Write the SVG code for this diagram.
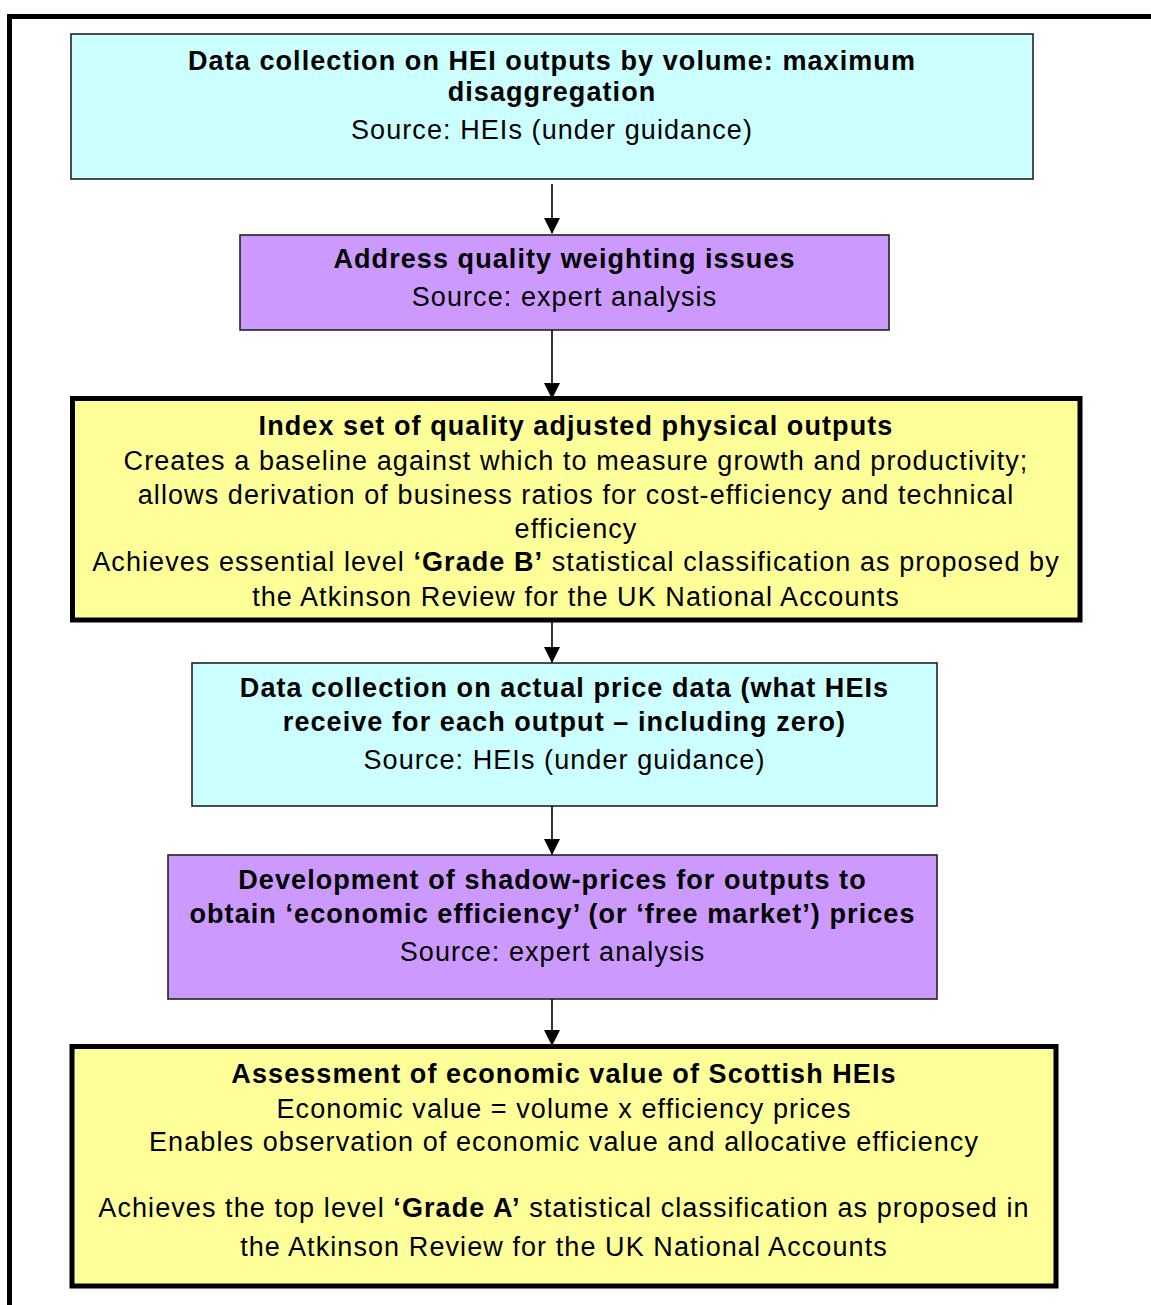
<svg xmlns="http://www.w3.org/2000/svg" width="1151" height="1305" viewBox="0 0 1151 1305">
<defs>
<style>
.t{font-family:"Liberation Sans",Arial,sans-serif;font-size:27px;fill:#000;text-anchor:middle;letter-spacing:1.08px}
.b{font-weight:bold}
.cyan{fill:#CCFFFF;stroke:#222;stroke-width:1.6}
.purple{fill:#CC99FF;stroke:#222;stroke-width:1.6}
.yellow{fill:#FFFF99;stroke:#000;stroke-width:5}
.conn{stroke:#000;stroke-width:1.6;fill:none}
</style>
<marker id="ah" markerWidth="16" markerHeight="16" refX="15" refY="8" orient="auto" markerUnits="userSpaceOnUse" viewBox="0 0 16 16">
<path d="M0,0 L16,8 L0,16 Z" fill="#000"/>
</marker>
</defs>
<rect width="1151" height="1305" fill="#fff"/>
<g id="frame">
<path d="M9.5,1310 V16.5 H1160" fill="none" stroke="#000" stroke-width="5"/>
</g>
<g id="n1">
<rect class="cyan" x="71" y="34" width="962" height="145"/>
<text class="t b" x="552" y="70">Data collection on HEI outputs by volume: maximum</text>
<text class="t b" x="552" y="101">disaggregation</text>
<text class="t" x="552" y="139">Source: HEIs (under guidance)</text>
</g>
<g id="n2">
<rect class="purple" x="240" y="235" width="649" height="95"/>
<text class="t b" x="564.5" y="268">Address quality weighting issues</text>
<text class="t" x="564.5" y="306">Source: expert analysis</text>
</g>
<g id="n3">
<rect class="yellow" x="72.5" y="398.5" width="1007.5" height="221.5"/>
<text class="t b" x="576" y="435">Index set of quality adjusted physical outputs</text>
<text class="t" x="576" y="470">Creates a baseline against which to measure growth and productivity;</text>
<text class="t" x="576" y="504">allows derivation of business ratios for cost-efficiency and technical</text>
<text class="t" x="576" y="538">efficiency</text>
<text class="t" x="576" y="571">Achieves essential level <tspan class="b">‘Grade B’</tspan> statistical classification as proposed by</text>
<text class="t" x="576" y="606">the Atkinson Review for the UK National Accounts</text>
</g>
<g id="n4">
<rect class="cyan" x="192" y="663" width="745" height="143"/>
<text class="t b" x="564.5" y="697">Data collection on actual price data (what HEIs</text>
<text class="t b" x="564.5" y="731">receive for each output – including zero)</text>
<text class="t" x="564.5" y="769">Source: HEIs (under guidance)</text>
</g>
<g id="n5">
<rect class="purple" x="168" y="855" width="769" height="144"/>
<text class="t b" x="552.5" y="889">Development of shadow-prices for outputs to</text>
<text class="t b" x="552.5" y="923">obtain ‘economic efficiency’ (or ‘free market’) prices</text>
<text class="t" x="552.5" y="961">Source: expert analysis</text>
</g>
<g id="n6">
<rect class="yellow" x="72" y="1046.5" width="984" height="239.5"/>
<text class="t b" x="564" y="1083">Assessment of economic value of Scottish HEIs</text>
<text class="t" x="564" y="1118">Economic value = volume x efficiency prices</text>
<text class="t" x="564" y="1151">Enables observation of economic value and allocative efficiency</text>
<text class="t" x="564" y="1217">Achieves the top level <tspan class="b">‘Grade A’</tspan> statistical classification as proposed in</text>
<text class="t" x="564" y="1256">the Atkinson Review for the UK National Accounts</text>
</g>
<g id="connectors">
<line class="conn" x1="552" y1="184" x2="552" y2="233" marker-end="url(#ah)"/>
<line class="conn" x1="552" y1="330" x2="552" y2="398" marker-end="url(#ah)"/>
<line class="conn" x1="552" y1="622" x2="552" y2="662" marker-end="url(#ah)"/>
<line class="conn" x1="552" y1="806" x2="552" y2="854" marker-end="url(#ah)"/>
<line class="conn" x1="552" y1="999" x2="552" y2="1045" marker-end="url(#ah)"/>
</g>
</svg>
